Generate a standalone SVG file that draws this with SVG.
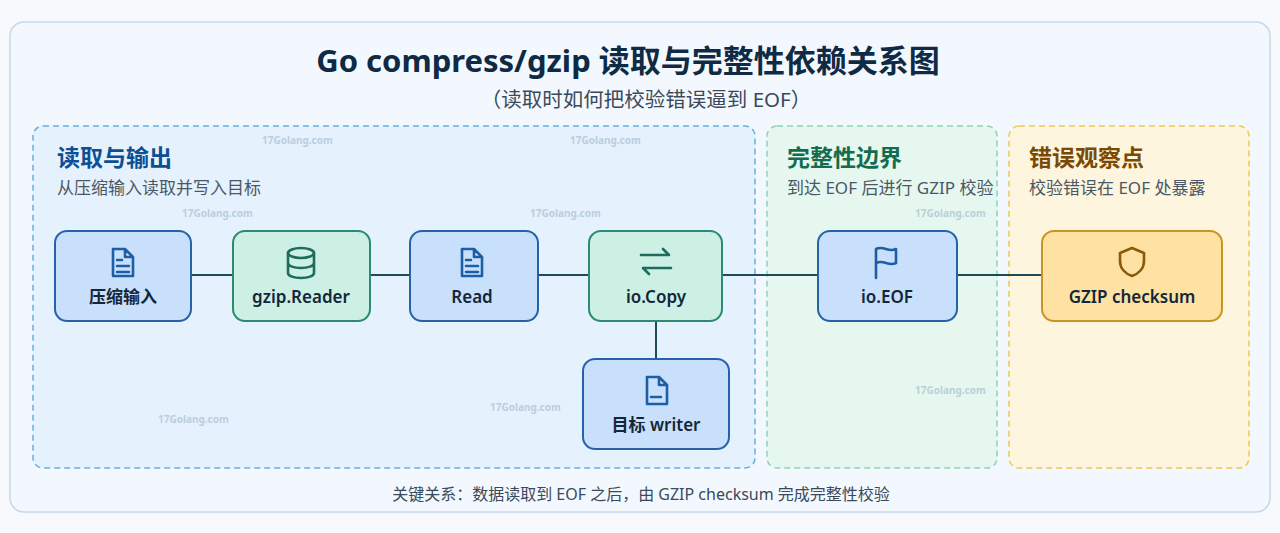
<svg xmlns="http://www.w3.org/2000/svg" width="1280" height="533" viewBox="0 0 1280 533">
<style>
text{font-family:"Noto Sans","Noto Sans CJK SC",sans-serif}
.gt{font-size:23px;font-weight:700}
.gs{font-size:17px;fill:#4a5866}
.nl{font-size:17px;font-weight:600;fill:#14263a;text-anchor:middle}
.nb{fill:#c8e0fb;stroke:#2563a8;stroke-width:2}
.ng{fill:#cdf0e5;stroke:#2b8a71;stroke-width:2}
.ic{fill:none;stroke-width:2.6;stroke-linecap:round;stroke-linejoin:round}
.wm{font-size:10px;font-weight:700;fill:#9fb8cc;opacity:.6}
</style>
<rect x="0" y="0" width="1280" height="533" fill="#f7f9fc"/>
<rect x="10" y="22" width="1260" height="490" rx="14" fill="#f2f8fe" stroke="#c7d8ea" stroke-width="1.5"/>
<text x="628" y="72" text-anchor="middle" font-size="31" font-weight="700" fill="#0f2a44">Go compress/gzip 读取与完整性依赖关系图</text>
<text x="646" y="107" text-anchor="middle" font-size="20.5" fill="#3a4a5a">（读取时如何把校验错误逼到 EOF）</text>
<g id="group-read">
<rect x="33" y="126" width="722" height="342" rx="10" fill="#e5f1fc" stroke="#6aaee0" stroke-width="1.5" stroke-dasharray="6 4"/>
<text x="57" y="166" class="gt" fill="#0d4f94">读取与输出</text>
<text x="57" y="194" class="gs">从压缩输入读取并写入目标</text>
</g>
<g id="group-integrity">
<rect x="767" y="126" width="230" height="342" rx="10" fill="#e5f7ee" stroke="#8fd3b5" stroke-width="1.5" stroke-dasharray="6 4"/>
<text x="787" y="166" class="gt" fill="#146c4f">完整性边界</text>
<text x="787" y="194" class="gs" font-size="15.5">到达 EOF 后进行 GZIP 校验</text>
</g>
<g id="group-error">
<rect x="1009" y="126" width="240" height="342" rx="10" fill="#fdf5dd" stroke="#f0c850" stroke-width="1.5" stroke-dasharray="6 4"/>
<text x="1029" y="166" class="gt" fill="#7a4a05">错误观察点</text>
<text x="1029" y="194" class="gs">校验错误在 EOF 处暴露</text>
</g>
<g class="wm-layer">
<text x="262" y="144" class="wm">17Golang.com</text>
<text x="570" y="144" class="wm">17Golang.com</text>
<text x="182" y="217" class="wm">17Golang.com</text>
<text x="530" y="217" class="wm">17Golang.com</text>
<text x="915" y="217" class="wm">17Golang.com</text>
<text x="915" y="394" class="wm">17Golang.com</text>
<text x="490" y="411" class="wm">17Golang.com</text>
<text x="158" y="423" class="wm">17Golang.com</text>
</g>
<g id="connectors" stroke="#1d4a55" stroke-width="2" fill="none">
<line x1="191" y1="275" x2="233" y2="275"/>
<line x1="370" y1="275" x2="410" y2="275"/>
<line x1="538" y1="275" x2="589" y2="275"/>
<line x1="722" y1="275" x2="818" y2="275"/>
<line x1="957" y1="275" x2="1042" y2="275"/>
<line x1="656" y1="321" x2="656" y2="359"/>
</g>
<g id="n-input">
<rect x="55" y="231" width="136" height="90" rx="12" class="nb"/>
<path class="ic" stroke="#1d5fa6" d="M113 249h12l8 8v19h-20zM125 249v8h8M117 260h5M117 266h12M117 272h12"/>
<text x="123" y="303" class="nl">压缩输入</text>
</g>
<g id="n-gzip">
<rect x="233" y="231" width="137" height="90" rx="12" class="ng"/>
<g class="ic" stroke="#1f6b5c"><ellipse cx="301" cy="253" rx="13" ry="5"/><path d="M288 253v20c0 3 6 5 13 5s13-2 13-5v-20M288 263c0 3 6 5 13 5s13-2 13-5"/></g>
<text x="301" y="303" class="nl">gzip.Reader</text>
</g>
<g id="n-read">
<rect x="410" y="231" width="128" height="90" rx="12" class="nb"/>
<path class="ic" stroke="#1d5fa6" d="M462 249h12l8 8v19h-20zM474 249v8h8M466 260h5M466 266h12M466 272h12"/>
<text x="472" y="303" class="nl">Read</text>
</g>
<g id="n-copy">
<rect x="589" y="231" width="133" height="90" rx="12" class="ng"/>
<path class="ic" stroke="#1f6b5c" d="M641 255h28l-6-6M671 268h-28l6 6"/>
<text x="656" y="303" class="nl">io.Copy</text>
</g>
<g id="n-eof">
<rect x="818" y="231" width="139" height="90" rx="12" class="nb"/>
<path class="ic" stroke="#1d5fa6" d="M876 278v-29c8-4 12 4 20 0v14c-8 4-12-4-20 0"/>
<text x="887" y="303" class="nl">io.EOF</text>
</g>
<g id="n-checksum">
<rect x="1042" y="231" width="180" height="90" rx="12" fill="#fde2a4" stroke="#c8961e" stroke-width="2"/>
<path class="ic" stroke="#8a5a08" fill="#fde8b8" d="M1132 248l12 5v8c0 8-6 13-12 15c-6-2-12-7-12-15v-8z"/>
<text x="1132" y="303" class="nl">GZIP checksum</text>
</g>
<g id="n-writer">
<rect x="583" y="359" width="146" height="90" rx="12" class="nb"/>
<path class="ic" stroke="#1d5fa6" d="M647 377h12l8 8v19h-20zM659 377v8h8M651 397h10"/>
<text x="656" y="431" class="nl">目标 writer</text>
</g>
<text x="641" y="500" text-anchor="middle" font-size="16" fill="#3a4a5a">关键关系：数据读取到 EOF 之后，由 GZIP checksum 完成完整性校验</text>
</svg>
